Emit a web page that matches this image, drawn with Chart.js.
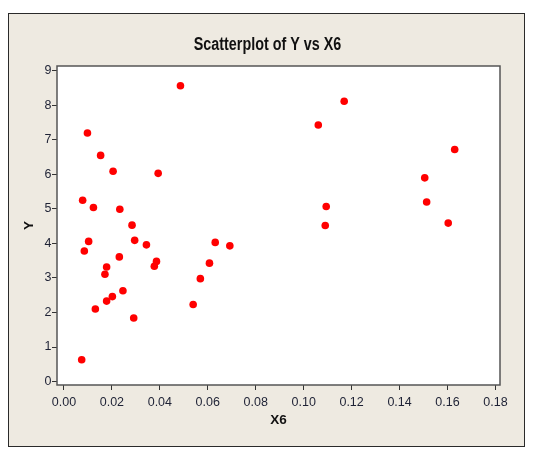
<!DOCTYPE html>
<html>
<head>
<meta charset="utf-8">
<script src="https://cdn.jsdelivr.net/npm/chart.js@4/dist/chart.umd.min.js"></script>
<style>
  html, body { margin: 0; padding: 0; background: #ffffff; }
  #chart { display: block; }
</style>
</head>
<body>
<canvas id="chart" width="539" height="455"></canvas>
<script>
var titleText = "Scatterplot of Y vs X6";
var xLabel = "X6";
var yLabel = "Y";

var x6 = [0.0486, 0.0098, 0.0153, 0.0205, 0.0393, 0.0078, 0.0123, 0.0233, 0.0284, 0.0103,
          0.0085, 0.0295, 0.0344, 0.0386, 0.0377, 0.0231, 0.0178, 0.0171, 0.0246, 0.0202,
          0.0178, 0.0131, 0.0291, 0.0074, 0.0539, 0.0569, 0.0607, 0.0631, 0.0692, 0.1169,
          0.1061, 0.1630, 0.1505, 0.1513, 0.1603, 0.1094, 0.1090];
var y = [8.57, 7.20, 6.55, 6.09, 6.03, 5.25, 5.04, 4.99, 4.53, 4.06,
         3.78, 4.09, 3.96, 3.48, 3.34, 3.61, 3.32, 3.11, 2.63, 2.46,
         2.33, 2.10, 1.84, 0.63, 2.23, 2.98, 3.43, 4.03, 3.93, 8.12,
         7.43, 6.72, 5.90, 5.20, 4.59, 5.07, 4.52];

var points = x6.map(function (v, i) { return { x: v, y: y[i] }; });

var tickFont = { family: "'Liberation Sans', Arial, sans-serif", size: 12.5 };
var labelFont = { family: "'Liberation Sans', Arial, sans-serif", size: 13.5, weight: "bold", lineHeight: 1.2 };

// beige panel, plot frame and the title (squeezed sideways like the original)
var panel = {
  id: "panel",
  beforeDraw: function (chart) {
    var ctx = chart.ctx;
    var a = chart.chartArea;
    ctx.save();
    ctx.fillStyle = "#ffffff";
    ctx.fillRect(0, 0, chart.width, chart.height);
    ctx.fillStyle = "#eeeae1";
    ctx.fillRect(8, 13, 516, 433);
    ctx.strokeStyle = "#2a2a2a";
    ctx.lineWidth = 1;
    ctx.strokeRect(8.5, 13.5, 516, 433);
    ctx.fillStyle = "#ffffff";
    ctx.fillRect(a.left, a.top, a.right - a.left, a.bottom - a.top);
    ctx.font = "bold 17.5px 'Liberation Sans', Arial, sans-serif";
    ctx.fillStyle = "#111111";
    ctx.textAlign = "center";
    ctx.textBaseline = "alphabetic";
    ctx.translate(267.5, 50);
    ctx.scale(0.82, 1);
    ctx.fillText(titleText, 0, 0);
    ctx.restore();
  },
  afterDraw: function (chart) {
    var ctx = chart.ctx;
    var a = chart.chartArea;
    ctx.save();
    ctx.strokeStyle = "#555555";
    ctx.lineWidth = 1.5;
    ctx.strokeRect(a.left, a.top, a.right - a.left, a.bottom - a.top);
    ctx.restore();
  }
};

new Chart(document.getElementById("chart").getContext("2d"), {
  type: "scatter",
  data: {
    datasets: [{
      data: points,
      backgroundColor: "#ff0000",
      borderWidth: 0,
      pointRadius: 3.8,
      pointHoverRadius: 3.8
    }]
  },
  options: {
    responsive: false,
    animation: false,
    events: [],
    layout: { padding: { left: 0, right: 39, top: 66, bottom: 0 } },
    plugins: {
      legend: { display: false },
      tooltip: { enabled: false }
    },
    scales: {
      x: {
        type: "linear",
        min: -0.0029,
        max: 0.1819,
        afterFit: function (s) { s.height = 70; },
        border: { display: false },
        grid: { drawOnChartArea: false, drawTicks: true, tickLength: 5, color: "#333333", lineWidth: 1 },
        ticks: {
          stepSize: 0.02,
          includeBounds: false,
          padding: 5,
          color: "#1e2235",
          font: tickFont,
          maxRotation: 0,
          callback: function (v) { return v.toFixed(2); }
        },
        title: { display: true, text: xLabel, color: "#111111", font: labelFont, padding: { top: 0, bottom: 26.3 } }
      },
      y: {
        type: "linear",
        min: -0.1,
        max: 9.14,
        afterFit: function (s) { s.width = 57; },
        border: { display: false },
        grid: { drawOnChartArea: false, drawTicks: true, tickLength: 5, color: "#333333", lineWidth: 1 },
        ticks: {
          stepSize: 1,
          includeBounds: false,
          padding: 0.5,
          color: "#1e2235",
          font: tickFont,
          callback: function (v) { return v.toFixed(0); }
        },
        title: { display: true, text: yLabel, color: "#111111", font: labelFont, padding: { top: 21, bottom: 0 } }
      }
    }
  },
  plugins: [panel]
});
</script>
</body>
</html>
